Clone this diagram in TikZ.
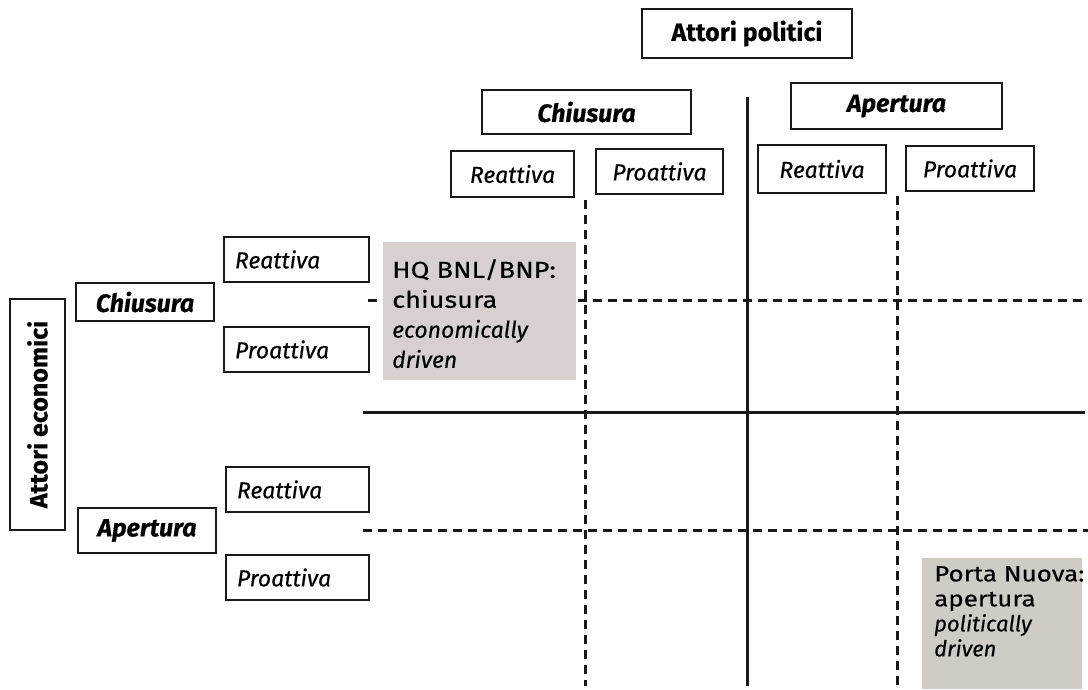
\documentclass[tikz,border=0pt]{standalone}
\usepackage{fontspec}
\setmainfont{Fira Sans}[FakeBold=0.4]
\newfontfamily\notefont{Fira Sans}[FakeBold=0.4, UprightFeatures={FakeStretch=1.18}]
\definecolor{hqgrey}{RGB}{216,208,207}
\definecolor{pngrey}{RGB}{206,204,196}
\begin{document}
\begin{tikzpicture}[x=1pt,y=-1pt,
  box/.style={draw=black!90, line width=2.6pt, fill=white, inner sep=0pt, font=\fontsize{23}{26}\selectfont},
  it/.style={box, font=\fontsize{23}{26}\selectfont\itshape},
  bit/.style={box, font=\fontsize{25}{28}\selectfont\bfseries\itshape},
  grid/.style={line width=3pt, black!90},
  dgrid/.style={line width=3pt, black!90, dash pattern=on 9pt off 6pt},
  note/.style={anchor=north west, align=left, inner sep=0pt, font=\notefont\fontsize{23}{30}\selectfont}
]
\useasboundingbox[fill=white] (0,0) rectangle (1088,689);

% grid lines
\coordinate (vs1) at (747,97);   \coordinate (vs2) at (747,686);
\coordinate (vd1a) at (585,200); \coordinate (vd1b) at (585,686);
\coordinate (vd2a) at (897,196); \coordinate (vd2b) at (897,686);
\coordinate (hs1) at (363,412);  \coordinate (hs2) at (1085,412);
\coordinate (hd1a) at (368,300); \coordinate (hd1b) at (1088,300);
\coordinate (hd2a) at (363,530); \coordinate (hd2b) at (1088,530);
\draw[grid] (vs1) -- (vs2);
\draw[grid] (hs1) -- (hs2);
\draw[dgrid] (vd1a) -- (vd1b);
\draw[dgrid] (vd2a) -- (vd2b);
\draw[dgrid] (hd1a) -- (hd1b);
\draw[dgrid] (hd2a) -- (hd2b);

% grey notes
\fill[hqgrey] (383,242) rectangle (576,380);
\node[note] (hq) at (392,259)
  {HQ BNL/BNP:\\chiusura\\\textit{economically}\\\textit{driven}};
\fill[pngrey] (922,558) rectangle (1082,689);
\node[note, font=\notefont\fontsize{22}{25}\selectfont] (pn) at (934,566)
  {Porta Nuova:\\apertura\\\textit{politically}\\\textit{driven}};

% top headers
\node[box, font=\fontsize{25}{28}\selectfont\bfseries, minimum width=210pt, minimum height=49pt] (ap) at (747,33.5) {Attori politici};
\node[bit, minimum width=209pt, minimum height=44pt] (pc) at (586.5,112) {Chiusura};
\node[bit, minimum width=211pt, minimum height=46pt] (pa) at (896.5,106) {Apertura};
\node[it, minimum width=123pt, minimum height=46pt] (pcr) at (512.5,174) {Reattiva};
\node[it, minimum width=127pt, minimum height=45pt] (pcp) at (659.5,171.5) {Proattiva};
\node[it, minimum width=128pt, minimum height=48pt] (par) at (822,169) {Reattiva};
\node[it, minimum width=128pt, minimum height=45pt] (pap) at (970,168.5) {Proattiva};

% left headers
\node[box, font=\fontsize{25}{28}\selectfont\bfseries, minimum width=231pt, minimum height=55pt, rotate=90] (ae) at (37.5,414.5) {Attori economici};
\node[bit, minimum width=138pt, minimum height=38pt] (ec) at (145,302) {Chiusura};
\node[bit, minimum width=138pt, minimum height=45pt] (ea) at (147,530.5) {Apertura};
\node[it, minimum width=145pt, minimum height=45pt, text width=145pt, align=left] (ecr) at (296.5,259.5) {\hspace*{11pt}Reattiva};
\node[it, minimum width=145pt, minimum height=45pt, text width=145pt, align=left] (ecp) at (296.5,349.5) {\hspace*{11pt}Proattiva};
\node[it, minimum width=143pt, minimum height=45pt, text width=143pt, align=left] (ear) at (297.5,489.5) {\hspace*{11pt}Reattiva};
\node[it, minimum width=143pt, minimum height=45pt, text width=143pt, align=left] (eap) at (297.5,577.5) {\hspace*{11pt}Proattiva};
\end{tikzpicture}
\end{document}
